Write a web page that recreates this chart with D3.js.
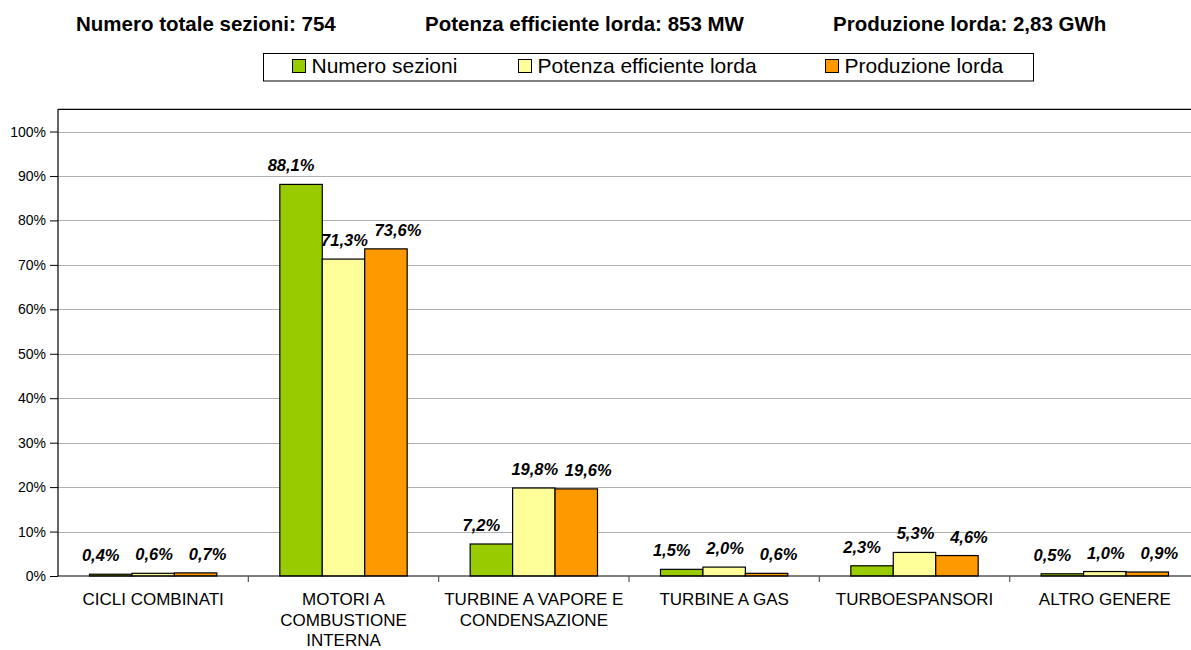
<!DOCTYPE html>
<html>
<head>
<meta charset="utf-8">
<script src="https://cdn.jsdelivr.net/npm/d3@7"></script>
<style>
  html, body { margin: 0; padding: 0; background: #fff; overflow: hidden; }
  svg { display: block; font-family: "Liberation Sans", Arial, sans-serif; }
</style>
</head>
<body>
<svg id="chart" width="1191" height="650"></svg>
<script>
// ---- data ----
const categories = ["CICLI COMBINATI", "MOTORI A COMBUSTIONE INTERNA", "TURBINE A VAPORE E CONDENSAZIONE", "TURBINE A GAS", "TURBOESPANSORI", "ALTRO GENERE"];
const seriesNames = ["Numero sezioni", "Potenza efficiente lorda", "Produzione lorda"];
const numeroSezioni = [0.4, 88.1, 7.2, 1.5, 2.3, 0.5];
const potenzaEfficiente = [0.6, 71.3, 19.8, 2.0, 5.3, 1.0];
const produzioneLorda = [0.7, 73.6, 19.6, 0.6, 4.6, 0.9];
const yTicks = [0, 10, 20, 30, 40, 50, 60, 70, 80, 90, 100];
const headerTexts = ["Numero totale sezioni: 754", "Potenza efficiente lorda: 853 MW", "Produzione lorda: 2,83 GWh"];
const colors = ["#99CC00", "#FFFF99", "#FF9900"];

const seriesValues = [numeroSezioni, potenzaEfficiente, produzioneLorda];

const svg = d3.select("#chart");
const pLeft = 58, pRight = 1200, pTop = 109.3, pBottom = 576;
// horizontal spread of data labels per series (style)
const labelShift = [-10, 1, 12];

const x = d3.scaleBand().domain(categories).range([pLeft, pRight]).paddingInner(0).paddingOuter(0);
const xInner = d3.scaleBand().domain(seriesNames).range([31.5, x.bandwidth() - 31.5]).padding(0);
const y = d3.scaleLinear().domain([0, 105]).range([pBottom, pTop]);

// header
const headerX = [76, 425, 833];
svg.selectAll("text.header").data(headerTexts).join("text")
  .attr("class", "header")
  .attr("x", (d, i) => headerX[i]).attr("y", 31)
  .attr("font-size", 20.5).attr("font-weight", "bold").attr("fill", "#000")
  .text(d => d);

// legend
const legend = svg.append("g");
legend.append("rect").attr("x", 263.5).attr("y", 53.5).attr("width", 770).attr("height", 27.5)
  .attr("fill", "#fff").attr("stroke", "#000").attr("stroke-width", 1);
const legX = [292.5, 518.5, 825.5];
const li = legend.selectAll("g.li").data(seriesNames).join("g").attr("class", "li")
  .attr("transform", (d, i) => `translate(${legX[i]},0)`);
li.append("rect").attr("x", 0).attr("y", 59.5).attr("width", 13).attr("height", 13)
  .attr("fill", (d, i) => colors[i]).attr("stroke", "#000").attr("stroke-width", 1);
li.append("text").attr("x", 19).attr("y", 73.3).attr("font-size", 21).attr("fill", "#000").text(d => d);

// gridlines
svg.append("g").selectAll("line").data(yTicks.filter(t => t > 0)).join("line")
  .attr("x1", pLeft).attr("x2", pRight)
  .attr("y1", d => Math.round(y(d)) + 0.5).attr("y2", d => Math.round(y(d)) + 0.5)
  .attr("stroke", "#b0b0b0").attr("stroke-width", 1);

// plot top border
svg.append("line").attr("x1", pLeft).attr("x2", pRight).attr("y1", pTop).attr("y2", pTop)
  .attr("stroke", "#000").attr("stroke-width", 1.2);

// y axis
const yAxis = d3.axisLeft(y).tickValues(yTicks).tickSize(8).tickPadding(4).tickFormat(d => d + "%");
const gy = svg.append("g").attr("transform", `translate(${pLeft},0)`).call(yAxis);
gy.select(".domain").remove();
gy.selectAll(".tick line").attr("stroke", "#000");
gy.selectAll(".tick text").attr("font-size", 14).attr("fill", "#000")
  .attr("font-family", "'Liberation Sans', Arial, sans-serif");
svg.append("line").attr("x1", pLeft).attr("x2", pLeft).attr("y1", pTop).attr("y2", pBottom)
  .attr("stroke", "#000").attr("stroke-width", 1.2);

// bars
const groups = svg.append("g").selectAll("g").data(categories).join("g")
  .attr("transform", d => `translate(${x(d)},0)`);
groups.each(function(cat, ci) {
  const g = d3.select(this);
  const vals = seriesNames.map((s, si) => ({ s, si, v: seriesValues[si][ci] }));
  g.selectAll("rect").data(vals).join("rect")
    .attr("x", d => xInner(d.s)).attr("width", xInner.bandwidth())
    .attr("y", d => y(d.v)).attr("height", d => y(0) - y(d.v))
    .attr("fill", d => colors[d.si]).attr("stroke", "#000").attr("stroke-width", 1.2);
  g.selectAll("text").data(vals).join("text")
    .attr("x", d => xInner(d.s) + xInner.bandwidth() / 2 + labelShift[d.si])
    .attr("y", d => y(d.v) - 13)
    .attr("text-anchor", "middle").attr("font-size", 16.5)
    .attr("font-weight", "bold").attr("font-style", "italic").attr("fill", "#000")
    .text(d => d.v.toFixed(1).replace(".", ",") + "%");
});

// x axis
const xAxis = d3.axisBottom(x).tickSize(0).tickFormat("");
const gx = svg.append("g").attr("transform", `translate(0,${pBottom})`).call(xAxis);
gx.select(".domain").remove();
svg.append("line").attr("x1", pLeft).attr("x2", pRight).attr("y1", pBottom).attr("y2", pBottom)
  .attr("stroke", "#000").attr("stroke-width", 1.2);
// category boundary ticks
svg.append("g").selectAll("line").data(categories.slice(1)).join("line")
  .attr("x1", d => x(d)).attr("x2", d => x(d))
  .attr("y1", pBottom).attr("y2", pBottom + 6)
  .attr("stroke", "#555").attr("stroke-width", 1.2);

// category labels with wrapping
function wrapLines(text, maxW, fontSize) {
  const tmp = svg.append("text").attr("font-size", fontSize);
  const words = text.split(" ");
  const lines = [];
  let cur = "";
  words.forEach(w => {
    const test = cur ? cur + " " + w : w;
    tmp.text(test);
    if (tmp.node().getComputedTextLength() > maxW && cur) { lines.push(cur); cur = w; }
    else cur = test;
  });
  if (cur) lines.push(cur);
  tmp.remove();
  return lines;
}
categories.forEach(cat => {
  const lines = wrapLines(cat, 188, 17);
  const t = svg.append("text").attr("text-anchor", "middle").attr("font-size", 17).attr("fill", "#000");
  lines.forEach((ln, i) => {
    t.append("tspan").attr("x", x(cat) + x.bandwidth() / 2).attr("y", 605 + i * 20.5).text(ln);
  });
});
</script>
</body>
</html>
